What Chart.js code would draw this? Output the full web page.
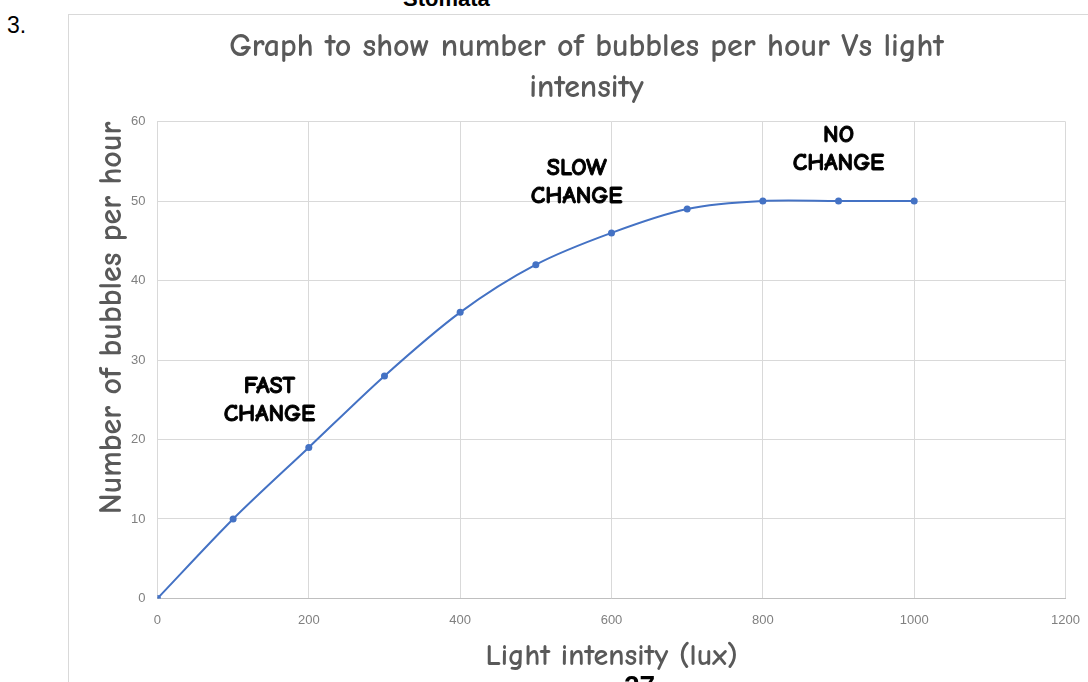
<!DOCTYPE html>
<html>
<head>
<meta charset="utf-8">
<script src="https://cdn.jsdelivr.net/npm/chart.js@4.4.1/dist/chart.umd.min.js"></script>
<style>
  html, body { margin: 0; padding: 0; background: #fff; }
  body { width: 1088px; height: 682px; position: relative; overflow: hidden; font-family: "Liberation Sans", Arial, sans-serif; }
  .qnum { position: absolute; left: 7px; top: 12px; font-size: 23px; color: #000; }
  .heading { position: absolute; left: 403px; top: -12px; font-size: 22px; line-height: 1; font-weight: bold; color: #000; }
  .pageno { position: absolute; left: 624px; top: 670px; font-size: 28px; font-weight: bold; color: #000; }
  .box { position: absolute; left: 68px; top: 14px; width: 1030px; height: 680px; border-left: 1px solid #d9d9d9; border-top: 1px solid #d9d9d9; }
  .box canvas { display: block; }
</style>
</head>
<body>
<div class="qnum">3.</div>
<div class="heading">Stomata</div>
<div class="box"><canvas id="bubbleChart" width="1025" height="668"></canvas></div>
<div class="pageno">27</div>
<script>
const lightLux = [0, 100, 200, 300, 400, 500, 600, 700, 800, 900, 1000];
const bubblesPerHour = [0, 10, 19, 28, 36, 42, 46, 49, 50, 50, 50];
const xTickValues = [0, 200, 400, 600, 800, 1000, 1200];
const yTickValues = [0, 10, 20, 30, 40, 50, 60];

// text notes placed in data units
const noteText = [['FAST', 'CHANGE'], ['SLOW', 'CHANGE'], ['NO', 'CHANGE']];
const noteX = [148, 554, 900];
const noteY = [25, 52.4, 56.5];

const handFont = '"Comic Sans MS", "Comic Neue", "Noto Sans", sans-serif';
const tickFont = '"Liberation Sans Narrow", "Liberation Sans", sans-serif';
const greyText = '#595959';

const notesPlugin = {
    id: 'notes',
    afterDatasetsDraw(chart) {
        const ctx = chart.ctx;
        const xs = chart.scales.x, ys = chart.scales.y;
        ctx.save();
        ctx.fillStyle = '#000';
        ctx.strokeStyle = '#000';
        ctx.lineWidth = 0.9;
        ctx.font = 'bold 24px ' + handFont;
        ctx.textAlign = 'center';
        ctx.textBaseline = 'middle';
        noteText.forEach((lines, i) => {
            const px = xs.getPixelForValue(noteX[i]);
            const py = ys.getPixelForValue(noteY[i]);
            ctx.fillText(lines[0], px, py - 14);
            ctx.strokeText(lines[0], px, py - 14);
            ctx.fillText(lines[1], px, py + 14);
            ctx.strokeText(lines[1], px, py + 14);
        });
        ctx.restore();
    }
};

const ctx = document.getElementById('bubbleChart').getContext('2d');
new Chart(ctx, {
    type: 'line',
    data: {
        datasets: [{
            label: 'Bubbles per hour',
            data: lightLux.map((x, i) => ({ x: x, y: bubblesPerHour[i] })),
            borderColor: '#4472c4',
            backgroundColor: '#4472c4',
            borderWidth: 2,
            tension: 0.3,
            pointRadius: 3.5,
            pointBorderWidth: 0,
            fill: false
        }]
    },
    options: {
        responsive: false,
        animation: false,
        layout: { padding: { left: 14, right: 4, top: 0, bottom: 0 } },
        plugins: {
            legend: { display: false },
            tooltip: { enabled: false },
            title: {
                display: true,
                text: ['Graph to show number of bubbles per hour Vs light', 'intensity'],
                color: greyText,
                font: { family: handFont, size: 32, weight: 'bold', lineHeight: 1.26 },
                padding: { top: 12, bottom: 14 }
            }
        },
        scales: {
            x: {
                type: 'linear',
                min: 0,
                max: 1200,
                afterBuildTicks: axis => { axis.ticks = xTickValues.map(v => ({ value: v })); },
                grid: { color: '#d9d9d9', drawTicks: false },
                border: { color: '#bfbfbf' },
                ticks: { color: '#808080', font: { family: tickFont, size: 13 }, padding: 14, maxRotation: 0, callback: v => String(v) },
                title: {
                    display: true,
                    text: 'Light intensity (lux)',
                    color: greyText,
                    font: { family: handFont, size: 30, weight: 'bold', lineHeight: 1.0 },
                    padding: { top: 0, bottom: 11 }
                }
            },
            y: {
                min: 0,
                max: 60,
                afterBuildTicks: axis => { axis.ticks = yTickValues.map(v => ({ value: v })); },
                grid: { color: '#d9d9d9', drawTicks: false },
                border: { display: false },
                ticks: { color: '#808080', font: { family: tickFont, size: 13 }, padding: 12, callback: v => String(v) },
                title: {
                    display: true,
                    align: 'end',
                    text: 'Number of bubbles per hour',
                    color: greyText,
                    font: { family: handFont, size: 32, weight: 'bold', lineHeight: 1.0 },
                    padding: { top: 13, bottom: -9 }
                }
            }
        }
    },
    plugins: [notesPlugin]
});
</script>
</body>
</html>
